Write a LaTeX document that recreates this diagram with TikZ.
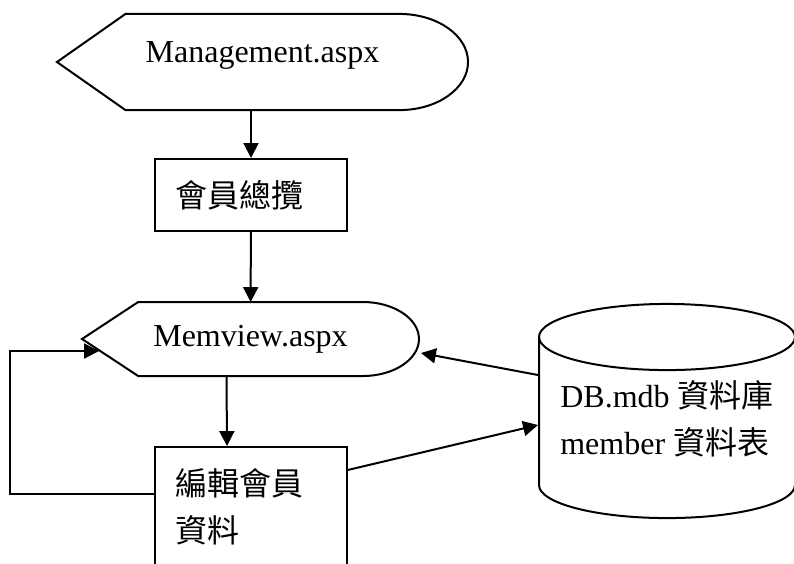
\documentclass[tikz,border=0pt]{standalone}
\usepackage{fontspec}
\setmainfont{Liberation Serif}
\newfontfamily\cjk{Noto Sans CJK TC}
\usetikzlibrary{arrows.meta, calc}
\tikzstyle{display} = [rectangle, inner sep=0pt, text centered, font=\fontsize{12pt}{17.6pt}\selectfont]
\tikzstyle{process} = [rectangle, minimum width=72pt, text width=57pt, inner xsep=7.5pt, inner ysep=0pt, align=left, draw=black, font=\fontsize{12pt}{17.6pt}\selectfont]
\tikzstyle{database} = [rectangle, minimum width=96pt, minimum height=55.5pt, inner sep=0pt, align=left, font=\fontsize{12pt}{17.6pt}\selectfont]
\tikzstyle{edge} = [->, >={Triangle[length=5.6pt, width=5.6pt]}]
% outline of a display shape round a node
\newcommand{\displayborder}[1]{%
  \draw (#1.west) -- ($(#1.north west)!0.1667!(#1.north east)$)
    -- ($(#1.north west)!0.8333!(#1.north east)$)
    .. controls ($(#1.north west)!0.9253!(#1.north east)$) and ($(#1.east)!0.552!(#1.north east)$) .. (#1.east)
    .. controls ($(#1.east)!0.552!(#1.south east)$) and ($(#1.south west)!0.9253!(#1.south east)$) .. ($(#1.south west)!0.8333!(#1.south east)$)
    -- ($(#1.south west)!0.1667!(#1.south east)$) -- cycle;}
\begin{document}
\begin{tikzpicture}[x=0.375pt, y=-0.375pt, line width=0.75pt]

\clip (0,0) rectangle (794,563);

\node (0) [display, minimum width=153.4pt, minimum height=35.3pt, text depth=7.8pt] at (262.5,62) {Management.aspx};
\node (1) [process, minimum height=27pt] at (251,195) {{\cjk 會員總攬}};
\node (2) [display, minimum width=125.6pt, minimum height=27pt] at (250.5,339) {Memview.aspx};
\node (3) [process, minimum height=45pt] at (251,507) {{\cjk 編輯會員}\\{\cjk 資料}};
\node (4) [database] at (667,419) {DB.mdb {\cjk 資料庫}\\member {\cjk 資料表}};

\displayborder{0}
\displayborder{2}
% disk round the database node
\draw ($(4.center)+(-128,-82)$) -- ($(4.center)+(-128,66)$) arc [start angle=180, end angle=360, x radius=48pt, y radius=12.4pt] -- ($(4.center)+(128,-82)$);
\draw ($(4.center)+(0,-82)$) ellipse [x radius=48pt, y radius=12.4pt];

\draw [edge] (1.north |- 0.south) -- (1);
\draw [edge] (1) -- (2);
\draw [edge] ([xshift=-9pt]2.south) -- ([xshift=-9pt]3.north);
\draw [edge] ([yshift=4.9pt]3.west) -- ++(-144,0) |- ($(2.west)+(17,12)$);
\draw [edge] ([yshift=13.9pt]3.east) -- ([yshift=-2.25pt]4.west);
\draw [edge] ([yshift=16.5pt]4.west) -- ($(2.east)+(2,14)$);

\end{tikzpicture}
\end{document}
